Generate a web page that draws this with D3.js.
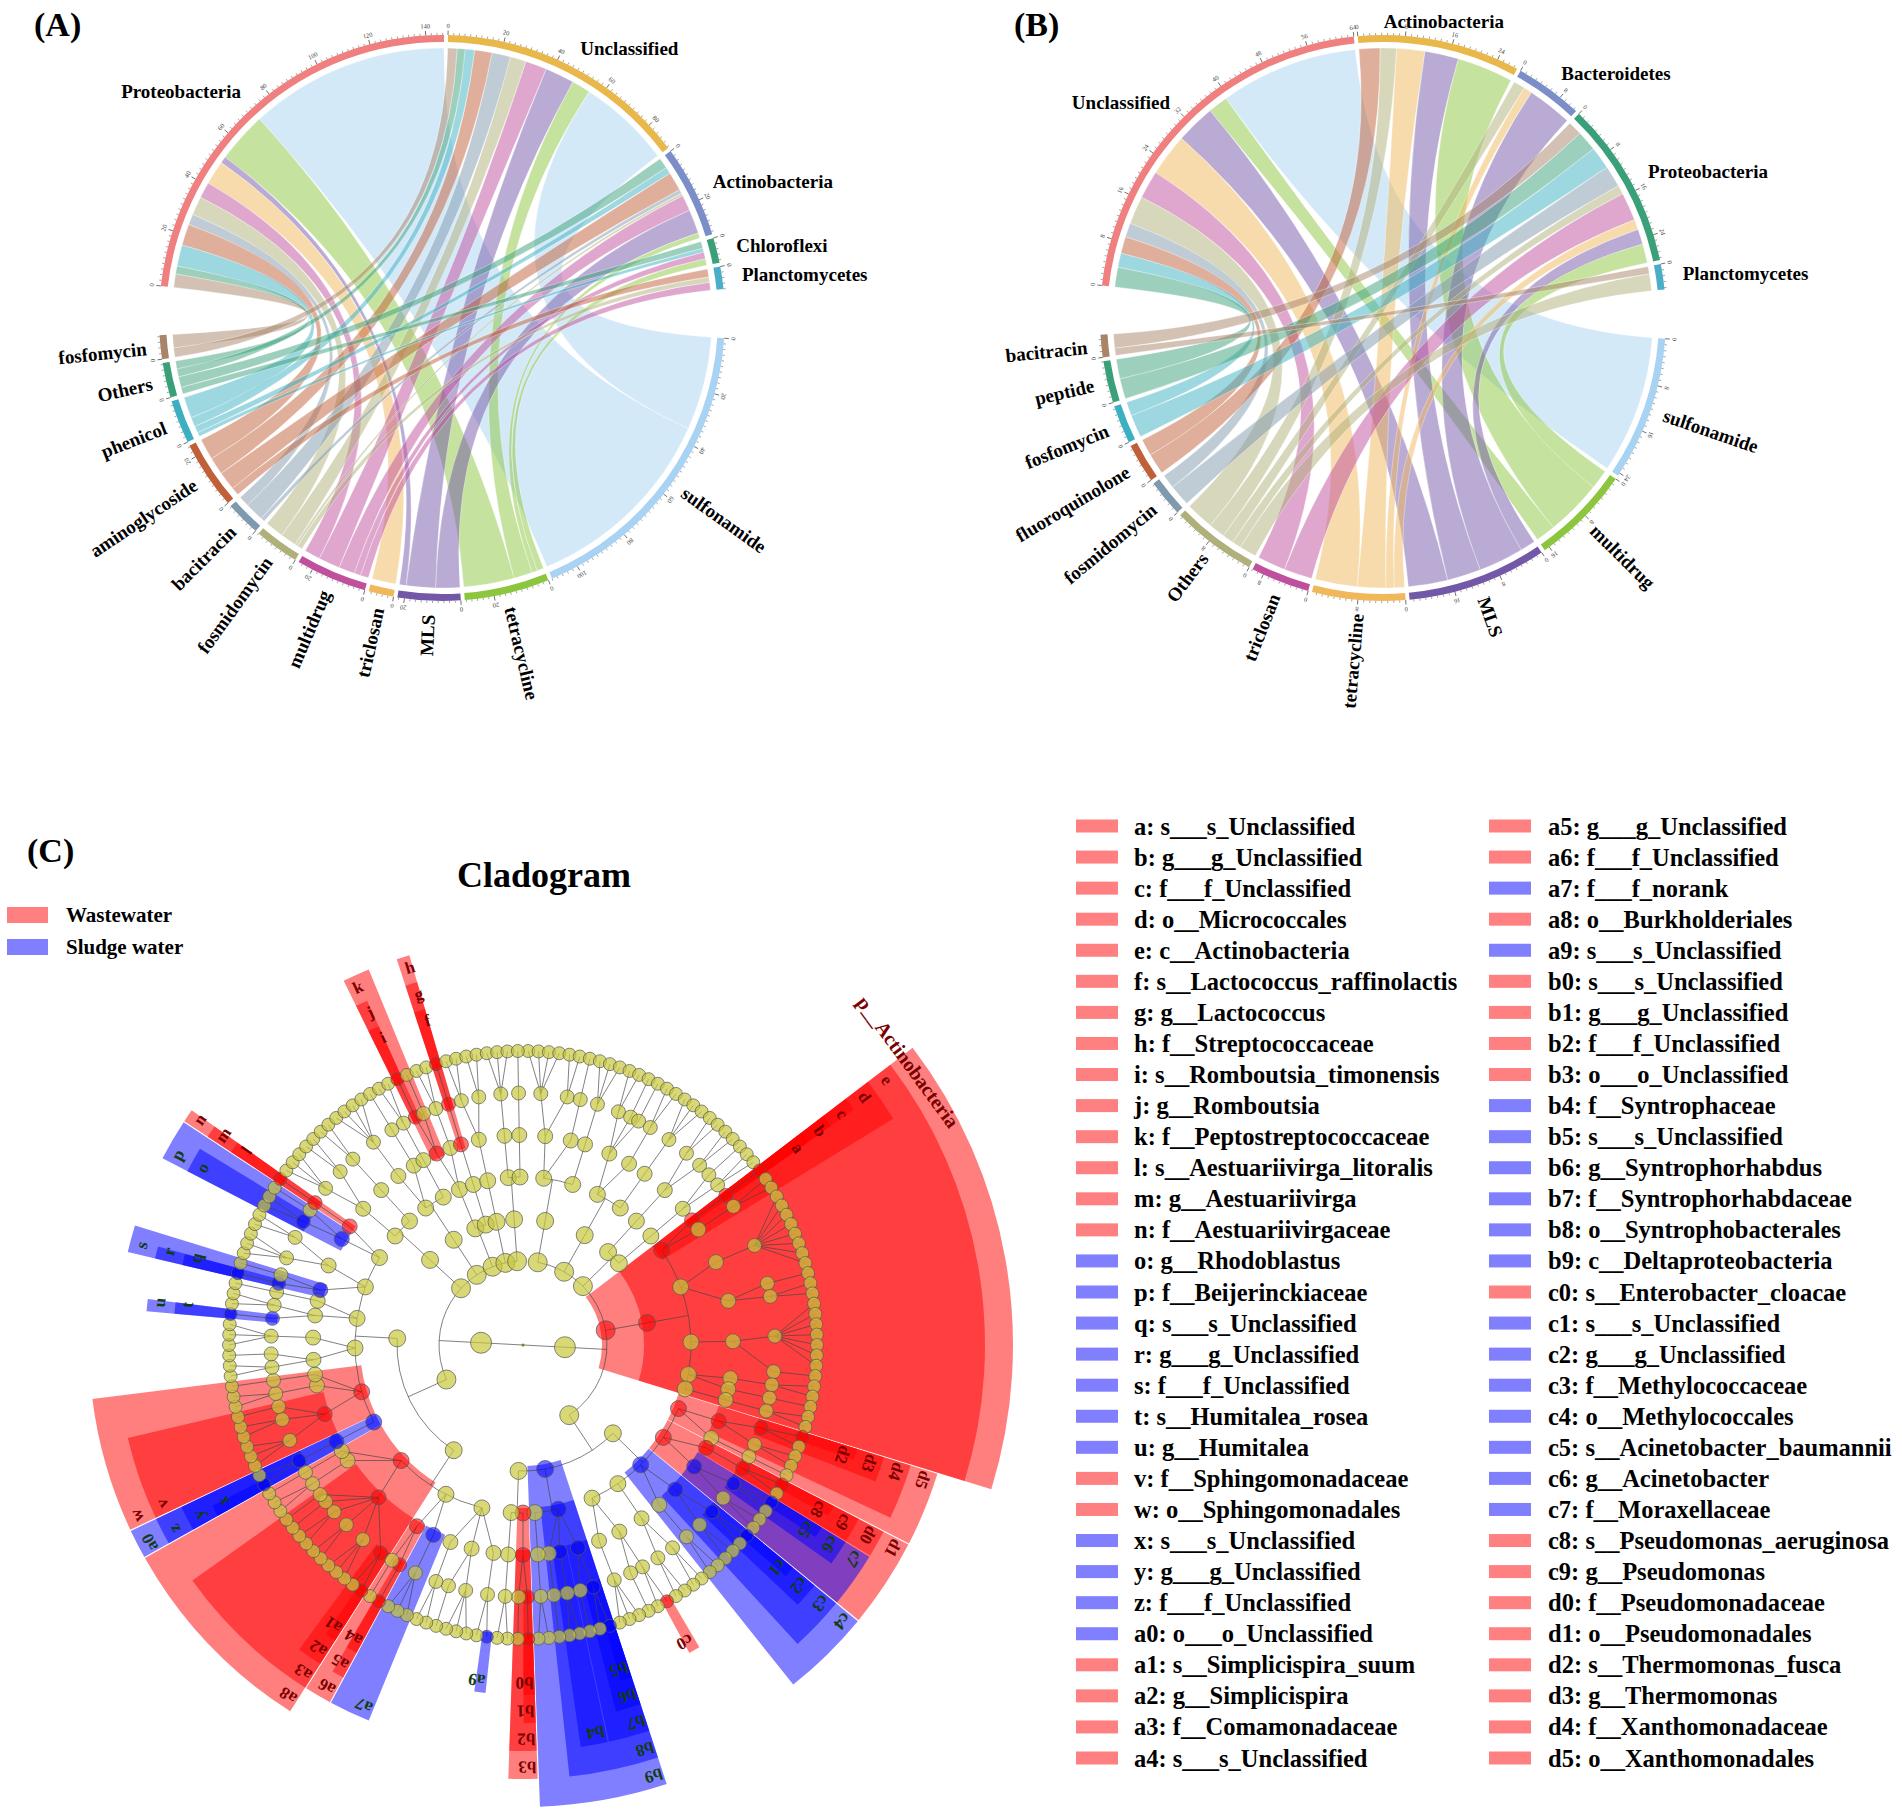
<!DOCTYPE html>
<html><head><meta charset="utf-8">
<script src="https://cdn.jsdelivr.net/npm/d3@7"></script>
<style>
body{margin:0;background:#fff}
text{font-family:"Liberation Serif","Times New Roman",serif;}
</style></head><body>
<svg id="fig" width="1902" height="1813"></svg>
<script>
// ================= DATA =================
// Panel A chord: taxa x ARG types (values read from the sector scales)
const taxaA = ["Proteobacteria","Unclassified","Actinobacteria","Chloroflexi","Planctomycetes"];
const argsA = ["sulfonamide","tetracycline","MLS","triclosan","multidrug","fosmidomycin","bacitracin","aminoglycoside","phenicol","Others","fosfomycin"];
const matrixA = [
  [75, 19, 2.5, 9, 6, 7, 4, 8, 8, 3, 5],
  [35, 7, 11, 0, 8, 6, 7, 6.5, 3.5, 3, 3.5],
  [0, 2, 9, 0, 6, 1, 1.5, 7, 2.5, 4, 0],
  [0, 2.5, 0, 0, 2.5, 0, 0, 0, 1.5, 2.5, 0],
  [0, 0, 0, 0, 3, 2, 0, 3, 0, 0, 0]
];
// Panel B chord
const taxaB = ["Unclassified","Actinobacteria","Bacteroidetes","Proteobacteria","Planctomycetes"];
const argsB = ["sulfonamide","multidrug","MLS","tetracycline","triclosan","Others","fosmidomycin","fluoroquinolone","fosfomycin","peptide","bacitracin"];
const matrixB = [
  [24.5, 3.5, 7, 7.5, 5, 5, 2.5, 3, 2.5, 3.5, 0],
  [0, 10, 6, 5, 0, 2.9, 0, 3.7, 0, 0, 0],
  [0, 0, 8, 1.5, 0, 2, 0, 0, 0, 0, 0],
  [0, 3.4, 2.7, 1.8, 5, 1.6, 3.8, 0, 4, 3.6, 2.5],
  [0, 0, 0, 0, 0, 3, 0, 0, 0, 0, 1.3]
];
const tickStepA = [20, 2];   // [labelled, minor]
const tickStepB = [8, 1];

// Palettes
const taxaPalette = ["#f08080","#e8b84a","#7b8ec8","#3aa07a","#4aaec8"];
const argPalette  = ["#a9d3f2","#8cc63e","#7458a8","#f0b85a","#c0509e","#b0b07a","#7f9aae","#c06038","#3cb0c2","#3aa07a","#a88468"];

// Panel C cladogram: (level-1 group -> phylum -> class -> order -> family -> genus -> species)
// [name, ...children]; a number = unnamed lineage ending in a genus with that many species
const cladeTree = [
  ["",
    ["", ["", ["", ["", 4, 2], ["", 1]], ["", ["", 3]]]],
    ["", ["", ["", ["", 2, 1, 1], ["", 2]], ["", ["", 3]]]],
    ["", ["", ["", ["", 2, 2]]], ["", ["", ["", 1, 2]]]],
    ["p__Actinobacteria", ["e",
      ["d", ["c", ["b", ["a"]]], ["", 2]],
      ["", ["", 8], ["", 1, 2]],
      ["", ["", 7, 1]],
      ["", ["", 2], ["", 1]],
      ["", ["", 2]]
    ]],
    ["",
      ["",
        ["d5", ["d4", ["d3", ["d2"], 1], 2], ["", 1]],
        ["d1", ["d0", ["c9", ["c8"], 1]], ["c7", ["c6", ["c5"], 1], 2]],
        ["c4", ["c3", ["c2", ["c1"], 1], 2], ["", 2]],
        ["", ["", 2, 2]],
        ["", ["", ["", ["c0"], 1], 1], ["", 3]]
      ],
      ["b9", ["b8", ["b7", ["b6", ["b5"], 1], 1], ["b4", 2], ["", 1]], ["", ["", 2]]],
      ["", ["b3", ["b2", ["b1", ["b0"]], 1]], ["", ["", 2]]]
    ]
  ],
  ["",
    ["",
      ["",
        ["", ["", ["", ["a9"], 1]], ["", 3, 1], ["", 2]],
        ["", ["a7", 3], ["a6", ["a5", ["a4"]], 1]],
        ["a8", ["a3", ["a2", ["a1"], 1], 3, 2, 2, 1, 1], ["", 2], ["", 1]]
      ],
      ["",
        ["a0", ["z", ["y", ["x"], 1]]],
        ["w", ["v", 3, 2, 1], ["", 2], ["", 1]],
        ["", ["", 2, 1], ["", 3]],
        ["", ["", ["u", ["t"]], 2], ["", 1]],
        ["", ["s", ["r", ["q"]], 1], ["", 3, 2]],
        ["", ["p", ["o", 2], 1], ["n", ["m", ["l"]]]]
      ]
    ],
    ["", ["", ["", ["", 3, 2]], ["", ["", 2]]]],
    ["", ["", ["", ["", 4], ["", 1]], ["", ["", 2]]]],
    ["", ["", ["", ["k", ["j", ["i"]], 1], ["", 2]]], ["", ["", ["h", ["g", ["f"]]]]]],
    ["", ["", ["", ["", 2, 2]]]],
    ["", ["", ["", ["", 3]], ["", ["", 1]]]]
  ]
];
// Biomarkers: [code, taxon, group]  W = Wastewater, S = Sludge water
const biomarkers = [
  ["a","s___s_Unclassified","W"],["b","g___g_Unclassified","W"],["c","f___f_Unclassified","W"],
  ["d","o__Micrococcales","W"],["e","c__Actinobacteria","W"],["f","s__Lactococcus_raffinolactis","W"],
  ["g","g__Lactococcus","W"],["h","f__Streptococcaceae","W"],["i","s__Romboutsia_timonensis","W"],
  ["j","g__Romboutsia","W"],["k","f__Peptostreptococcaceae","W"],["l","s__Aestuariivirga_litoralis","W"],
  ["m","g__Aestuariivirga","W"],["n","f__Aestuariivirgaceae","W"],["o","g__Rhodoblastus","S"],
  ["p","f__Beijerinckiaceae","S"],["q","s___s_Unclassified","S"],["r","g___g_Unclassified","S"],
  ["s","f___f_Unclassified","S"],["t","s__Humitalea_rosea","S"],["u","g__Humitalea","S"],
  ["v","f__Sphingomonadaceae","W"],["w","o__Sphingomonadales","W"],["x","s___s_Unclassified","S"],
  ["y","g___g_Unclassified","S"],["z","f___f_Unclassified","S"],["a0","o___o_Unclassified","S"],
  ["a1","s__Simplicispira_suum","W"],["a2","g__Simplicispira","W"],["a3","f__Comamonadaceae","W"],
  ["a4","s___s_Unclassified","W"],["a5","g___g_Unclassified","W"],["a6","f___f_Unclassified","W"],
  ["a7","f___f_norank","S"],["a8","o__Burkholderiales","W"],["a9","s___s_Unclassified","S"],
  ["b0","s___s_Unclassified","W"],["b1","g___g_Unclassified","W"],["b2","f___f_Unclassified","W"],
  ["b3","o___o_Unclassified","W"],["b4","f__Syntrophaceae","S"],["b5","s___s_Unclassified","S"],
  ["b6","g__Syntrophorhabdus","S"],["b7","f__Syntrophorhabdaceae","S"],["b8","o__Syntrophobacterales","S"],
  ["b9","c__Deltaproteobacteria","S"],["c0","s__Enterobacter_cloacae","W"],["c1","s___s_Unclassified","S"],
  ["c2","g___g_Unclassified","S"],["c3","f__Methylococcaceae","S"],["c4","o__Methylococcales","S"],
  ["c5","s__Acinetobacter_baumannii","S"],["c6","g__Acinetobacter","S"],["c7","f__Moraxellaceae","S"],
  ["c8","s__Pseudomonas_aeruginosa","W"],["c9","g__Pseudomonas","W"],["d0","f__Pseudomonadaceae","W"],
  ["d1","o__Pseudomonadales","W"],["d2","s__Thermomonas_fusca","W"],["d3","g__Thermomonas","W"],
  ["d4","f__Xanthomonadaceae","W"],["d5","o__Xanthomonadales","W"]
];
const namedClades = [["p__Actinobacteria","W"]];
const groups = [["W","Wastewater"],["S","Sludge water"]];
const groupFill = {W:"#ff0000", S:"#0000ff"};
const groupSwatch = {W:"#ff8080", S:"#8080ff"};
const groupLabel = {W:"#7a0000", S:"#123c12"};

// ================= DRAWING =================
const svg = d3.select("#fig");
svg.append("rect").attr("width",1902).attr("height",1813).attr("fill","#fff");
const rad = d => d * Math.PI / 180;
const polar = (deg, r) => [r * Math.sin(rad(deg)), -r * Math.cos(rad(deg))];

function drawChord(cfg) {
  const g = svg.append("g").attr("transform", `translate(${cfg.cx},${cfg.cy})`);
  const R_OUT = 283, R_IN = 276, R_RIB = 270;
  const rowSum = cfg.matrix.map(r => d3.sum(r));
  const colSum = cfg.args.map((_, j) => d3.sum(cfg.matrix, r => r[j]));
  const total = d3.sum(rowSum);
  const sectors = [
    ...cfg.taxa.map((name, i) => ({name, kind: "t", i, value: rowSum[i], color: taxaPalette[i]})),
    ...cfg.args.map((name, j) => ({name, kind: "a", i: j, value: colSum[j], color: argPalette[j]}))
  ];
  const BIG = 10, SMALL = 0.8;
  const avail = 360 - 2 * BIG - (sectors.length - 2) * SMALL;
  const span = d3.scaleLinear().domain([0, 2 * total]).range([0, avail]);
  let cur = cfg.startDeg;
  sectors.forEach((s, k) => {
    s.start = cur; s.end = cur + span(s.value);
    s.scale = d3.scaleLinear().domain([0, s.value]).range([s.start, s.end]);
    cur = s.end + ((k === cfg.taxa.length - 1 || k === sectors.length - 1) ? BIG : SMALL);
  });
  const tSec = sectors.filter(s => s.kind === "t"), aSec = sectors.filter(s => s.kind === "a");
  const mid = s => (s.start + s.end) / 2;
  const ccw = (s, p) => (((s.start - mid(p)) % 360) + 720) % 360;
  const links = [];
  cfg.matrix.forEach((row, i) => row.forEach((v, j) => { if (v > 0) links.push({i, j, v}); }));
  tSec.forEach(s => {
    let c = 0;
    links.filter(l => l.i === s.i).sort((a, b) => ccw(s, aSec[a.j]) - ccw(s, aSec[b.j]))
      .forEach(l => { l.t0 = s.scale(c); c += l.v; l.t1 = s.scale(c); });
  });
  aSec.forEach(s => {
    let c = 0;
    links.filter(l => l.j === s.i).sort((a, b) => ccw(s, tSec[a.i]) - ccw(s, tSec[b.i]))
      .forEach(l => { l.a0 = s.scale(c); c += l.v; l.a1 = s.scale(c); });
  });
  const ribbon = d3.ribbon().radius(R_RIB);
  g.append("g").selectAll("path").data(links).join("path")
    .attr("d", l => ribbon({source: {startAngle: rad(l.t0), endAngle: rad(l.t1)},
                            target: {startAngle: rad(l.a0), endAngle: rad(l.a1)}}))
    .attr("fill", l => argPalette[l.j]).attr("fill-opacity", 0.5)
    .attr("stroke", "#fff").attr("stroke-width", 0.5).attr("stroke-opacity", 0.7);
  const arc = d3.arc();
  g.append("g").selectAll("path").data(sectors).join("path")
    .attr("d", s => arc({innerRadius: R_IN, outerRadius: R_OUT, startAngle: rad(s.start), endAngle: rad(s.end)}))
    .attr("fill", s => s.color);
  const tg = g.append("g");
  sectors.forEach(s => {
    d3.range(0, s.value + 1e-6, cfg.ticks[1]).forEach(v => {
      const major = Math.abs(v / cfg.ticks[0] - Math.round(v / cfg.ticks[0])) < 1e-6;
      const a = s.scale(v);
      const [x1, y1] = polar(a, R_OUT), [x2, y2] = polar(a, R_OUT + (major ? 4.5 : 2.2));
      tg.append("line").attr("x1", x1).attr("y1", y1).attr("x2", x2).attr("y2", y2)
        .attr("stroke", "#333").attr("stroke-width", major ? 0.7 : 0.45);
      if (major) {
        const [lx, ly] = polar(a, R_OUT + 9.5);
        tg.append("text").attr("transform", `translate(${lx},${ly}) rotate(${a})`)
          .attr("text-anchor", "middle").attr("dominant-baseline", "central")
          .attr("font-size", 6.5).attr("fill", "#444").text(Math.round(v));
      }
    });
  });
  sectors.forEach(s => {
    const th = ((mid(s) % 360) + 360) % 360;
    if (s.kind === "t") {
      const [x, y] = polar(th, 303);
      const sn = Math.sin(rad(th));
      g.append("text").attr("x", x).attr("y", y)
        .attr("text-anchor", sn > 0.25 ? "start" : sn < -0.25 ? "end" : "middle")
        .attr("dominant-baseline", "central").attr("font-size", 19).attr("font-weight", "bold")
        .text(s.name);
    } else {
      const [x, y] = polar(th, 297);
      const right = th < 180;
      g.append("text").attr("transform", `translate(${x},${y}) rotate(${right ? th - 90 : th + 90})`)
        .attr("text-anchor", right ? "start" : "end").attr("dominant-baseline", "central")
        .attr("font-size", 19).attr("font-weight", "bold").text(s.name);
    }
  });
}

drawChord({cx: 442, cy: 318, taxa: taxaA, args: argsA, matrix: matrixA, startDeg: 276.5, ticks: tickStepA});
drawChord({cx: 1383, cy: 318, taxa: taxaB, args: argsB, matrix: matrixB, startDeg: 276.6, ticks: tickStepB});

[["(A)", 34, 36], ["(B)", 1014, 36], ["(C)", 27, 862]].forEach(([t, x, y]) =>
  svg.append("text").attr("x", x).attr("y", y).attr("font-size", 34).attr("font-weight", "bold").text(t));

// ---------- Cladogram ----------
(function () {
  const cx = 523, cy = 1345;
  const g = svg.append("g").attr("transform", `translate(${cx},${cy})`);
  function expand(spec, level) {
    if (typeof spec === "number") {
      if (level === 7) return d3.range(spec).map(() => ({name: "", level, children: []}));
      return [{name: "", level, children: expand(spec, level + 1)}];
    }
    const [name, ...kids] = spec;
    return [{name, level, children: kids.flatMap(k => expand(k, level + 1))}];
  }
  const rootData = {name: "root", level: 0, children: cladeTree.flatMap(s => expand(s, 1))};
  const root = d3.hierarchy(rootData, d => d.children.length ? d.children : null);
  d3.cluster().size([360, 1]).separation(() => 1)(root);
  // internal nodes sit at the middle of their leaves' angular range
  root.eachAfter(d => { if (d.children) { const xs = d.leaves().map(l => l.x); d.x = (d3.min(xs) + d3.max(xs)) / 2; } });
  const N = root.leaves().length;
  const ringR = d3.scaleLinear().domain([0, 7]).range([0, 294]);
  const wedgeOuter = d3.scaleLinear().domain([7, 2]).range([350, 490]);
  const nodeR = d3.scaleOrdinal().domain(d3.range(8)).range([1.6, 10.5, 9.5, 8.5, 8, 7.5, 7, 6.5]);
  const markerGroup = new Map([...biomarkers.map(b => [b[0], b[2]]), ...namedClades]);
  const half = 180 / N;
  const marked = root.descendants().filter(d => markerGroup.has(d.data.name))
    .sort((a, b) => a.data.level - b.data.level);
  const arc = d3.arc();
  marked.forEach(d => {
    const xs = d.leaves().map(l => l.x);
    d.a0 = d3.min(xs) - half * 0.92; d.a1 = d3.max(xs) + half * 0.92;
    const L = d.data.level;
    g.append("path").attr("d", arc({innerRadius: Math.max(0, ringR(L) - 5), outerRadius: wedgeOuter(L),
        startAngle: rad(d.a0), endAngle: rad(d.a1)}))
      .attr("fill", groupFill[markerGroup.get(d.data.name)]).attr("fill-opacity", 0.5);
  });
  const lg = g.append("g").attr("stroke", "#444").attr("stroke-width", 0.8).attr("fill", "none").attr("stroke-opacity", 0.85);
  root.descendants().filter(d => d.children).forEach(p => {
    const L = p.data.level, rp = ringR(L), rc = ringR(L + 1);
    if (L === 0) {
      p.children.forEach(c => { const [x, y] = polar(c.x, rc); lg.append("line").attr("x1", 0).attr("y1", 0).attr("x2", x).attr("y2", y); });
    } else if (L <= 3) {
      const [x1, y1] = polar(p.x, rp), [x2, y2] = polar(p.x, rc);
      lg.append("line").attr("x1", x1).attr("y1", y1).attr("x2", x2).attr("y2", y2);
      if (p.children.length > 1) {
        const xs = p.children.map(c => c.x);
        const path = d3.path();
        path.arc(0, 0, rc, rad(d3.min(xs) - 90), rad(d3.max(xs) - 90));
        lg.append("path").attr("d", path.toString());
      }
    } else {
      const [x1, y1] = polar(p.x, rp);
      p.children.forEach(c => { const [x2, y2] = polar(c.x, rc); lg.append("line").attr("x1", x1).attr("y1", y1).attr("x2", x2).attr("y2", y2); });
    }
  });
  const ng = g.append("g");
  root.descendants().forEach(d => {
    const L = d.data.level;
    const [x, y] = polar(d.x, ringR(L));
    if (L === 0) { ng.append("circle").attr("cx", 0).attr("cy", 0).attr("r", 1.6).attr("fill", "#6b8e23"); return; }
    const grp = markerGroup.get(d.data.name);
    ng.append("circle").attr("cx", x).attr("cy", y).attr("r", nodeR(L))
      .attr("fill", grp ? groupFill[grp] : "#c8c83c").attr("fill-opacity", grp ? 0.55 : 0.7)
      .attr("stroke", "#555").attr("stroke-width", 0.7);
  });
  marked.forEach(d => {
    const L = d.data.level, r = wedgeOuter(L) - 12;
    const isName = d.data.name.length > 3;
    const ang = isName ? d.a0 + 1 : d.a0 + (10 / r) * 180 / Math.PI;
    const [x, y] = polar(ang, r);
    g.append("text").attr("transform", `translate(${x},${y}) rotate(${ang})`)
      .attr("text-anchor", "middle").attr("dominant-baseline", "central")
      .attr("font-size", isName ? 20 : 17).attr("font-weight", "bold")
      .attr("fill", groupLabel[markerGroup.get(d.data.name)]).text(d.data.name);
  });
  svg.append("text").attr("x", 544).attr("y", 887).attr("text-anchor", "middle")
    .attr("font-size", 36).attr("font-weight", "bold").text("Cladogram");
  groups.forEach(([k, label], i) => {
    svg.append("rect").attr("x", 7).attr("y", 907 + i * 32).attr("width", 41).attr("height", 16).attr("fill", groupSwatch[k]);
    svg.append("text").attr("x", 66).attr("y", 915 + i * 32).attr("dominant-baseline", "central")
      .attr("font-size", 21).attr("font-weight", "bold").text(label);
  });
  const rows = Math.ceil(biomarkers.length / 2);
  const rowY = d3.scaleLinear().domain([0, rows - 1]).range([826, 1758]);
  biomarkers.forEach(([code, name, grp], i) => {
    const col = Math.floor(i / rows), row = i % rows;
    const sx = col ? 1489 : 1076, tx = col ? 1548 : 1134;
    svg.append("rect").attr("x", sx).attr("y", rowY(row) - 6.5).attr("width", 42).attr("height", 13).attr("fill", groupSwatch[grp]);
    svg.append("text").attr("x", tx).attr("y", rowY(row)).attr("dominant-baseline", "central")
      .attr("font-size", 24.5).attr("font-weight", "bold").text(`${code}: ${name}`);
  });
})();
</script>
</body></html>
